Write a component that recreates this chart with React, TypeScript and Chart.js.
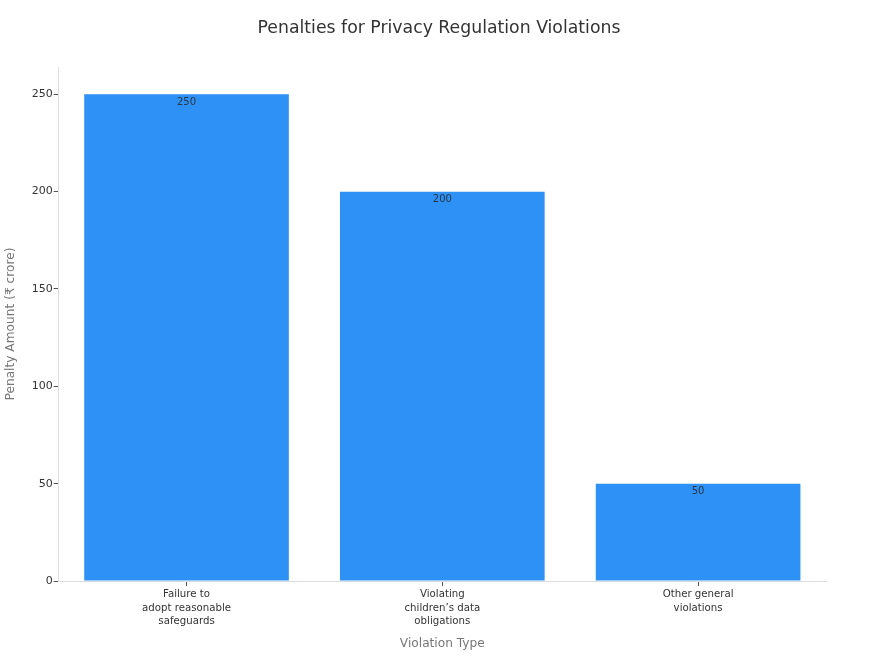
import { useEffect, useRef } from "react"
import { Chart, registerables } from "chart.js"

Chart.register(...registerables)

const categories = [
  ["Failure to", "adopt reasonable", "safeguards"],
  ["Violating", "children\u2019s data", "obligations"],
  ["Other general", "violations"],
]
const penalties = [250, 200, 50]
const yTicks = [0, 50, 100, 150, 200, 250]
const chartTitle = "Penalties for Privacy Regulation Violations"

const FONT = "'DejaVu Sans', Verdana, sans-serif"

// value just under the top of each bar, plus the title centred on the whole canvas
const extras = {
  id: "extras",
  afterDatasetsDraw(chart: Chart) {
    const ctx = chart.ctx
    const meta = chart.getDatasetMeta(0)
    ctx.save()
    ctx.font = `10px ${FONT}`
    ctx.fillStyle = "rgba(40,40,40,0.85)"
    ctx.textAlign = "center"
    ctx.textBaseline = "top"
    meta.data.forEach((bar: any, i: number) => {
      ctx.fillText(String(penalties[i]), bar.x, bar.y + 3)
    })

    ctx.font = `17.3px ${FONT}`
    ctx.fillStyle = "#333333"
    ctx.textBaseline = "middle"
    ctx.fillText(chartTitle, chart.width / 2, 29)
    ctx.restore()
  },
}

export default function App() {
  const chartRef = useRef<HTMLCanvasElement>(null)
  const chartInstance = useRef<Chart | null>(null)

  useEffect(() => {
    if (!chartRef.current) return
    if (chartInstance.current) chartInstance.current.destroy()
    const ctx = chartRef.current.getContext("2d")
    if (!ctx) return

    chartInstance.current = new Chart(ctx, {
      type: "bar",
      data: {
        labels: categories,
        datasets: [
          {
            label: "Penalty",
            data: penalties,
            backgroundColor: "#2E91F5",
            barPercentage: 0.8,
            categoryPercentage: 1,
          },
        ],
      },
      options: {
        responsive: false,
        animation: false,
        layout: { padding: { left: 4, right: 52, top: 67, bottom: 7.5 } },
        plugins: {
          legend: { display: false },
          tooltip: { enabled: false },
          title: { display: false },
        },
        scales: {
          x: {
            grid: { drawOnChartArea: false, offset: false, tickLength: 5, color: "#555555" },
            border: { color: "#DDDDDD" },
            ticks: {
              color: "#333333",
              font: { family: FONT, size: 10.2, lineHeight: 1.3 },
              maxRotation: 0,
              padding: 2,
            },
            title: {
              display: true,
              text: "Violation Type",
              color: "#777777",
              font: { family: FONT, size: 12.2 },
              padding: { top: 7, bottom: 0 },
            },
          },
          y: {
            min: 0,
            max: 264,
            afterBuildTicks: (axis: any) => {
              axis.ticks = yTicks.map((v) => ({ value: v }))
            },
            grid: { drawOnChartArea: false, tickLength: 5, color: "#555555" },
            border: { color: "#DDDDDD" },
            ticks: {
              color: "#333333",
              font: { family: FONT, size: 11 },
              padding: 1,
            },
            title: {
              display: true,
              text: "Penalty Amount (\u20B9 crore)",
              color: "#777777",
              font: { family: FONT, size: 12.2 },
              padding: { top: 0, bottom: 12 },
            },
          },
        },
      },
      plugins: [extras],
    })

    return () => {
      if (chartInstance.current) chartInstance.current.destroy()
    }
  }, [])

  return (
    <div style={{ position: "fixed", left: 0, top: 0, width: 878, height: 659, background: "#fff" }}>
      <canvas ref={chartRef} width={878} height={659} style={{ width: 878, height: 659 }} />
    </div>
  )
}
